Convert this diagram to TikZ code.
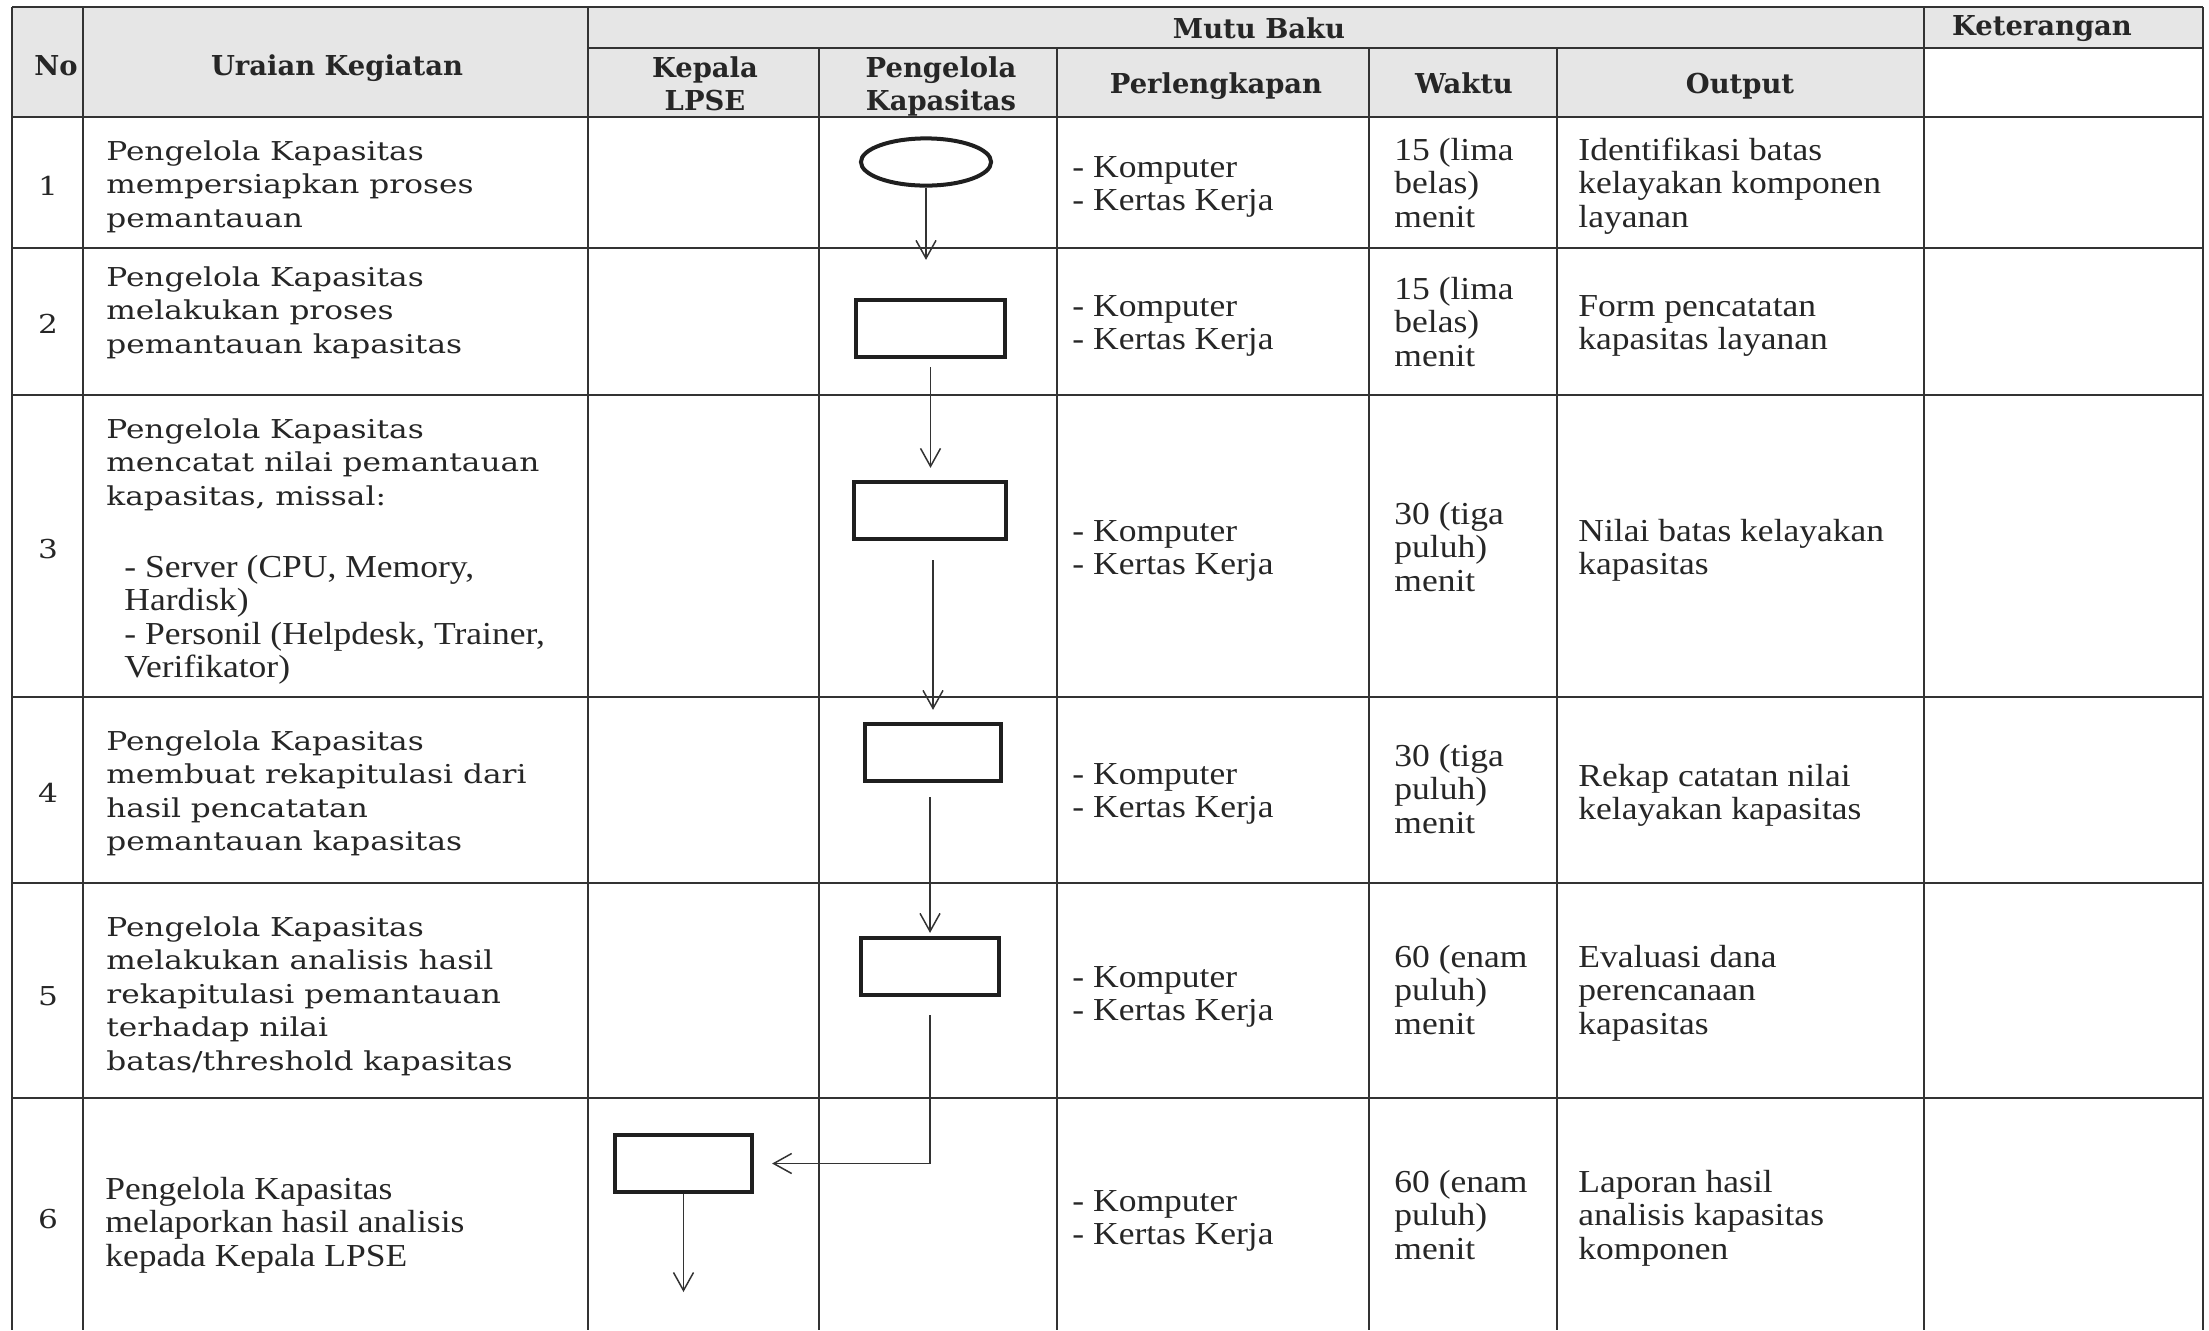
\documentclass[tikz,border=0pt]{standalone}
\usepackage{fontspec}
\setmainfont{DejaVu Serif}
\newfontfamily\bkfont[FakeStretch=1.2]{DejaVu Serif}
\newfontfamily\hdfont[FakeStretch=1.0]{DejaVu Serif}
\newfontfamily\cbfont[FakeStretch=1.11]{Liberation Serif}
\usetikzlibrary{arrows.meta,shapes.geometric}
\definecolor{hdgray}{HTML}{E6E6E6}
\definecolor{ink}{HTML}{262626}
\tikzset{
  bk/.style={font=\bkfont\fontsize{13}{16.75}\selectfont, inner sep=0pt, anchor=north west, align=left, text=ink},
  cb/.style={font=\cbfont\fontsize{16}{16.75}\selectfont, inner sep=0pt, anchor=north west, align=left, text=ink},
  hd/.style={font=\hdfont\bfseries\fontsize{13.7}{16.5}\selectfont, inner sep=0pt, text=ink},
  num/.style={font=\bkfont\fontsize{13}{16.75}\selectfont, inner sep=0pt, anchor=base, text=ink},
  gridline/.style={line width=1pt, draw=black!80},
  flowbox/.style={draw=black!88, line width=2pt, fill=white, inner sep=0pt},
  arr/.style={draw=black!80, line width=0.75pt, -{Straight Barb[length=9pt,width=10pt]}},
}
\begin{document}
\begin{tikzpicture}[x=0.5pt,y=-0.5pt]
\useasboundingbox (0,0) rectangle (2209,1330);
\fill[white] (0,0) rectangle (2209,1330);
% header fill
\fill[hdgray] (12,7) rectangle (1924,117);
\fill[hdgray] (1924,7) rectangle (2203,48);
% grid
\draw[gridline] (12,7) -- (2203,7);
\draw[gridline] (588,48) -- (2203,48);
\foreach \yy in {117,248,395,697,883,1098}{\draw[gridline] (12,\yy) -- (2203,\yy);}
\foreach \xx in {12,83,588,1924,2203}{\draw[gridline] (\xx,7) -- (\xx,1330);}
\foreach \xx in {819,1057,1369,1557}{\draw[gridline] (\xx,48) -- (\xx,1330);}
% headers
\node[hd, anchor=base] (hNo) at (56,75) {No};
\node[hd, anchor=base] (hUr) at (337,75) {Uraian Kegiatan};
\node[hd, anchor=base] (hMB) at (1259,38) {Mutu Baku};
\node[hd, anchor=base] (hKet) at (2042,35) {Keterangan};
\node[hd, anchor=north, align=center] (hKep) at (705,53.9) {\strut Kepala\\LPSE};
\node[hd, anchor=north, align=center] (hPeng) at (941,53.9) {\strut Pengelola\\Kapasitas};
\node[hd, anchor=base] (hPer) at (1216,93) {Perlengkapan};
\node[hd, anchor=base] (hWak) at (1464,93) {Waktu};
\node[hd, anchor=base] (hOut) at (1740,93) {Output};
% numbers
\node[num] (n1) at (48,195) {1};
\node[num] (n2) at (48,333) {2};
\node[num] (n3) at (48,558) {3};
\node[num] (n4) at (48,802) {4};
\node[num] (n5) at (48,1005) {5};
\node[num] (n6) at (48,1228) {6};
% uraian
\node[bk] (u1) at (106,136.5) {\strut Pengelola Kapasitas\\mempersiapkan proses\\pemantauan};
\node[bk] (u2) at (106,262.5) {\strut Pengelola Kapasitas\\melakukan proses\\pemantauan kapasitas};
\node[bk] (u3) at (106,414.5) {\strut Pengelola Kapasitas\\mencatat nilai pemantauan\\kapasitas, missal:};
\node[cb] (u3b) at (124,553.5) {\strut - Server (CPU, Memory,\\Hardisk)\\- Personil (Helpdesk, Trainer,\\Verifikator)};
\node[bk] (u4) at (106,726.5) {\strut Pengelola Kapasitas\\membuat rekapitulasi dari\\hasil pencatatan\\pemantauan kapasitas};
\node[bk] (u5) at (106,912.5) {\strut Pengelola Kapasitas\\melakukan analisis hasil\\rekapitulasi pemantauan\\terhadap nilai\\batas/threshold kapasitas};
\node[cb] (u6) at (105,1175.5) {\strut Pengelola Kapasitas\\melaporkan hasil analisis\\kepada Kepala LPSE};
% perlengkapan
\node[cb] (p1) at (1072,153.5) {\strut - Komputer\\- Kertas Kerja};
\node[cb] (p2) at (1072,292.5) {\strut - Komputer\\- Kertas Kerja};
\node[cb] (p3) at (1072,517.5) {\strut - Komputer\\- Kertas Kerja};
\node[cb] (p4) at (1072,760.5) {\strut - Komputer\\- Kertas Kerja};
\node[cb] (p5) at (1072,963.5) {\strut - Komputer\\- Kertas Kerja};
\node[cb] (p6) at (1072,1187.5) {\strut - Komputer\\- Kertas Kerja};
% waktu
\node[cb] (w1) at (1394,136.5) {\strut 15 (lima\\belas)\\menit};
\node[cb] (w2) at (1394,275.5) {\strut 15 (lima\\belas)\\menit};
\node[cb] (w3) at (1394,500.5) {\strut 30 (tiga\\puluh)\\menit};
\node[cb] (w4) at (1394,742.5) {\strut 30 (tiga\\puluh)\\menit};
\node[cb] (w5) at (1394,943.5) {\strut 60 (enam\\puluh)\\menit};
\node[cb] (w6) at (1394,1168.5) {\strut 60 (enam\\puluh)\\menit};
% output
\node[cb] (o1) at (1578,136.5) {\strut Identifikasi batas\\kelayakan komponen\\layanan};
\node[cb] (o2) at (1578,292.5) {\strut Form pencatatan\\kapasitas layanan};
\node[cb] (o3) at (1578,517.5) {\strut Nilai batas kelayakan\\kapasitas};
\node[cb] (o4) at (1578,762.5) {\strut Rekap catatan nilai\\kelayakan kapasitas};
\node[cb] (o5) at (1578,943.5) {\strut Evaluasi dana\\perencanaan\\kapasitas};
\node[cb] (o6) at (1578,1168.5) {\strut Laporan hasil\\analisis kapasitas\\komponen};
% flow shapes
\node[flowbox, ellipse, minimum width=65.1pt, minimum height=23.6pt] (e1) at (926,162) {};
\node[flowbox, rectangle, minimum width=74.6pt, minimum height=28.6pt] (r2) at (930.5,328.5) {};
\node[flowbox, rectangle, minimum width=76.1pt, minimum height=28.6pt] (r3) at (930,510.5) {};
\node[flowbox, rectangle, minimum width=68.1pt, minimum height=28.6pt] (r4) at (933,752.5) {};
\node[flowbox, rectangle, minimum width=69.1pt, minimum height=28.6pt] (r5) at (930,966.5) {};
\node[flowbox, rectangle, minimum width=68.6pt, minimum height=28.6pt] (r6) at (683.5,1163.5) {};
\coordinate (end6) at (683.5,1292);
% connectors
\draw[arr, shorten >=19pt] (e1.south) -- (e1.south |- r2.north);
\draw[arr, shorten <=4pt, shorten >=6pt] (r2.south) -- (r2.south |- r3.north);
\draw[arr, shorten <=9.5pt, shorten >=6pt] (r4.north |- r3.south) -- (r4.north);
\draw[arr, shorten <=7pt, shorten >=1.5pt] (r5.north |- r4.south) -- (r5.north);
\draw[arr, shorten <=9pt, shorten >=9pt] (r5.south) |- (r6.east);
\draw[arr] (r6.south) -- (end6);
\end{tikzpicture}
\end{document}
